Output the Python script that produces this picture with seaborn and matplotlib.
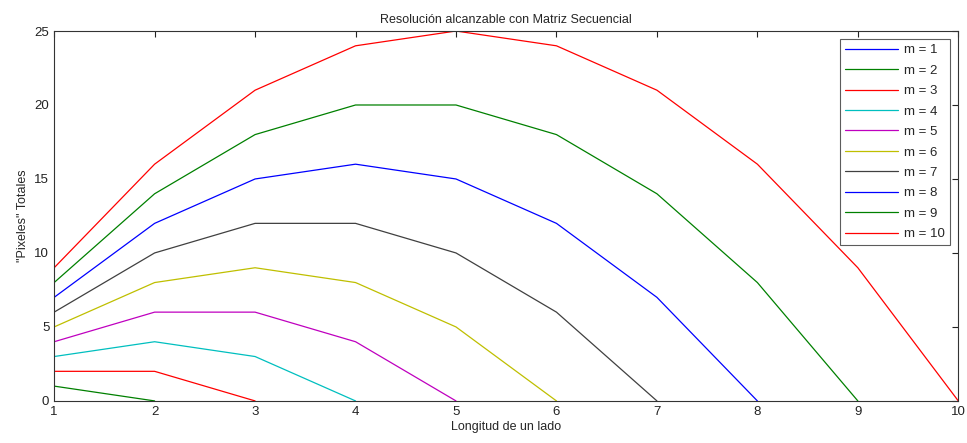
import numpy as np
import pandas as pd
import matplotlib
matplotlib.use("Agg")
import matplotlib.pyplot as plt
import seaborn as sns

# datos
lado = [1, 2, 3, 4, 5, 6, 7, 8, 9, 10]
m_vals = [1, 2, 3, 4, 5, 6, 7, 8, 9, 10]
pixeles = {
    1: [0],
    2: [1, 0],
    3: [2, 2, 0],
    4: [3, 4, 3, 0],
    5: [4, 6, 6, 4, 0],
    6: [5, 8, 9, 8, 5, 0],
    7: [6, 10, 12, 12, 10, 6, 0],
    8: [7, 12, 15, 16, 15, 12, 7, 0],
    9: [8, 14, 18, 20, 20, 18, 14, 8, 0],
    10: [9, 16, 21, 24, 25, 24, 21, 16, 9, 0],
}
colores = ["#0000ff", "#008000", "#ff0000", "#00bfbf", "#bf00bf",
           "#bfbf00", "#404040", "#0000ff", "#008000", "#ff0000"]

rows = []
for m in m_vals:
    for x, y in zip(lado, pixeles[m]):
        rows.append({"lado": x, "pix": y, "m": "m = %d" % m})
df = pd.DataFrame(rows)

sns.set_style("white")
plt.rcParams["font.family"] = ["Liberation Sans", "DejaVu Sans"]

fig = plt.figure(figsize=(9.67, 4.43), dpi=100)
ax = fig.add_axes([0.056, 0.095, 0.935, 0.835])

sns.lineplot(data=df, x="lado", y="pix", hue="m", palette=colores,
             linewidth=0.9, ax=ax, legend=True)

ax.set_xlim(1, 10)
ax.set_ylim(0, 25)
ax.set_xticks(lado)
ax.set_yticks([0, 5, 10, 15, 20, 25])
ax.tick_params(direction="in", top=True, right=True, length=4,
               labelsize=9.5, colors="#222222", width=0.8)
for s in ax.spines.values():
    s.set_color("#333333")
    s.set_linewidth(0.8)

ax.set_title("Resolución alcanzable con Matriz Secuencial", fontsize=9)
ax.set_xlabel("Longitud de un lado", fontsize=9, labelpad=2)
ax.set_ylabel('"Pixeles" Totales', fontsize=9, labelpad=4)

leg = ax.legend(loc="upper right", fontsize=9.5, frameon=True, fancybox=False,
                borderaxespad=0.6, handlelength=4.0, labelspacing=0.62,
                borderpad=0.4, handletextpad=0.5, edgecolor="#333333")
leg.get_frame().set_linewidth(0.8)

fig.savefig("out.png", dpi=100)
